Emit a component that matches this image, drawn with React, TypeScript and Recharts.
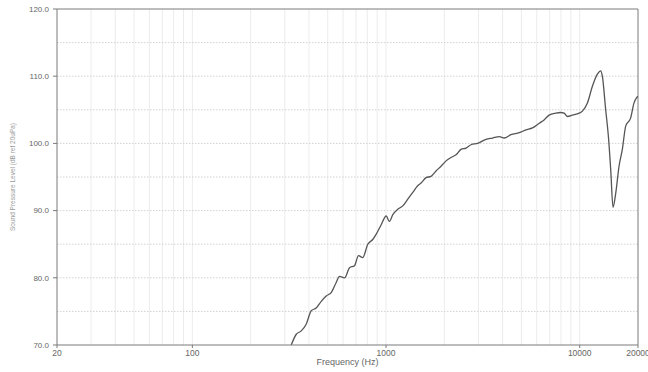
import { LineChart, Line, XAxis, YAxis, ReferenceLine } from "recharts";

// frequency response (Hz, dB SPL)
const FREQ_HZ = [
  324, 344, 365, 387, 411, 436, 463, 491, 521, 553, 575, 611, 648, 687, 721, 758,
  805, 854, 890, 944, 1002, 1040, 1084, 1150, 1220, 1295, 1374, 1457, 1517, 1610,
  1707, 1812, 1924, 2042, 2167, 2298, 2438, 2588, 2746, 2972, 3280, 3550, 3845,
  4074, 4415, 4875, 5275, 5705, 6180, 6550, 6950, 7530, 7980, 8310, 8650, 9170,
  9930, 10330, 10960, 11630, 12340, 12830, 13090, 13620, 14060, 14460, 14860,
  15350, 15960, 16600, 17290, 18330, 19060, 19680, 20000,
];
const SPL_DB = [
  70.0, 71.6, 72.1, 73.1, 75.1, 75.5, 76.5, 77.3, 77.8, 79.3, 80.2, 80.0, 81.5, 81.8, 83.3, 83.0,
  85.0, 85.7, 86.5, 87.9, 89.2, 88.4, 89.4, 90.2, 90.7, 91.7, 92.7, 93.7, 94.1, 94.9,
  95.1, 95.9, 96.6, 97.4, 97.9, 98.3, 99.1, 99.3, 99.8, 100.0, 100.6, 100.8, 101.0,
  100.8, 101.3, 101.6, 102.0, 102.3, 103.0, 103.5, 104.2, 104.5, 104.6, 104.5, 104.0, 104.2,
  104.5, 104.8, 106.0, 108.5, 110.3, 110.8, 110.0, 105.0, 101.1, 96.1, 90.5,
  92.6, 96.6, 99.1, 102.6, 103.8, 106.0, 106.8, 107.0,
];

const X_TICKS = [20, 100, 1000, 10000, 20000];
const Y_TICKS = [70, 80, 90, 100, 110, 120];
const MINOR_FREQS = [
  30, 40, 50, 60, 70, 80, 90, 100,
  200, 300, 400, 500, 600, 700, 800, 900, 1000,
  2000, 3000, 4000, 5000, 6000, 7000, 8000, 9000, 10000,
];
const GRID_DB = [75, 80, 85, 90, 95, 100, 105, 110, 115];

const data = FREQ_HZ.map((f, i) => ({ f, spl: SPL_DB[i] }));

const axisColor = "#7a7a7a";
const tickText = { fill: "#666", fontSize: 8.5 };

export default function App() {
  return (
    <div style={{ position: "absolute", left: 0, top: 0, fontFamily: "'Liberation Sans', Arial, sans-serif" }}>
      <LineChart width={648} height={372} data={data} margin={{ top: 9, right: 10, bottom: 0, left: 0 }}>
        <XAxis
          dataKey="f"
          type="number"
          scale="log"
          domain={[20, 20000]}
          ticks={X_TICKS}
          interval={0}
          allowDataOverflow
          height={27}
          stroke={axisColor}
          tick={tickText}
          tickSize={3}
          tickMargin={2}
          label={{ value: "Frequency (Hz)", position: "insideBottom", offset: 7, fill: "#666", fontSize: 9 }}
        />
        <YAxis
          type="number"
          domain={[70, 120]}
          ticks={Y_TICKS}
          interval={0}
          allowDataOverflow
          width={57}
          stroke={axisColor}
          tick={{ ...tickText, fontSize: 8 }}
          tickSize={4}
          tickMargin={4}
          tickFormatter={(v: number) => v.toFixed(1)}
          label={{
            value: "Sound Pressure Level (dB ref 20uPa)",
            angle: -90,
            position: "insideLeft",
            offset: 13,
            fill: "#999",
            fontSize: 6.5,
            style: { textAnchor: "middle" },
          }}
        />
        {MINOR_FREQS.map((f) => (
          <ReferenceLine key={"v" + f} x={f} stroke="#ececec" strokeWidth={1} />
        ))}
        {GRID_DB.map((d) => (
          <ReferenceLine key={"h" + d} y={d} stroke="#d2d2d2" strokeDasharray="1.5 1.5" strokeWidth={1} />
        ))}
        <ReferenceLine y={120} stroke={axisColor} />
        <ReferenceLine x={20000} stroke={axisColor} />
        <Line
          type="monotone"
          dataKey="spl"
          stroke="#555"
          strokeWidth={1.3}
          dot={false}
          isAnimationActive={false}
        />
      </LineChart>
    </div>
  );
}
